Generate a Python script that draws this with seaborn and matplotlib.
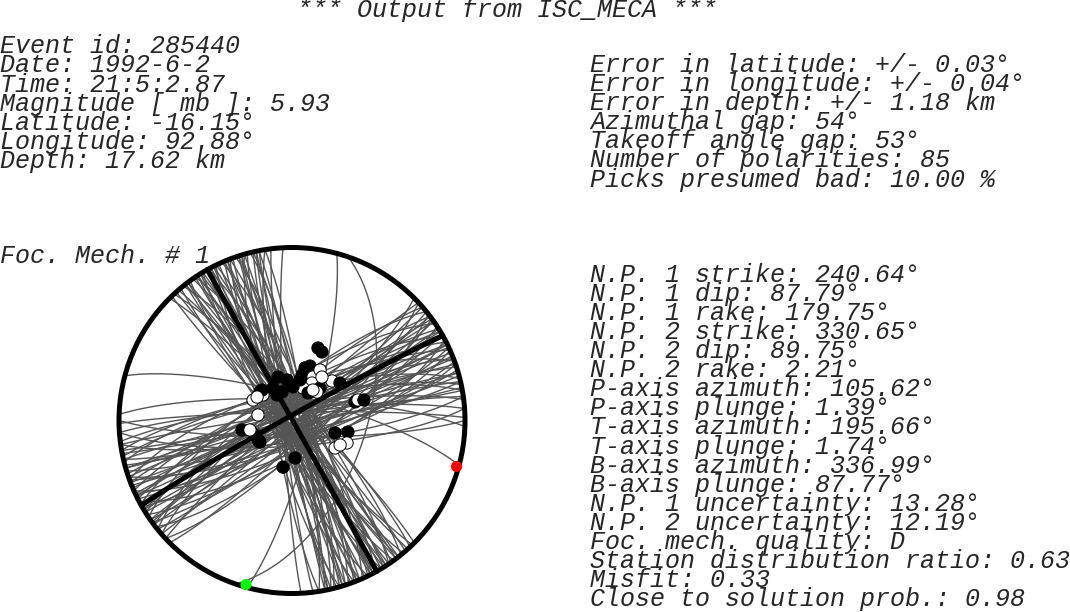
import numpy as np
import pandas as pd
import matplotlib
matplotlib.use("Agg")
import matplotlib.pyplot as plt
from matplotlib.patches import Circle
import seaborn as sns

# Header text
title = "*** Output from ISC_MECA ***"
event_info = [
    "Event id: 285440",
    "Date: 1992-6-2",
    "Time: 21:5:2.87",
    "Magnitude [ mb ]: 5.93",
    "Latitude: -16.15°",
    "Longitude: 92.88°",
    "Depth: 17.62 km",
]
error_info = [
    "Error in latitude: +/- 0.03°",
    "Error in longitude: +/- 0.04°",
    "Error in depth: +/- 1.18 km",
    "Azimuthal gap: 54°",
    "Takeoff angle gap: 53°",
    "Number of polarities: 85",
    "Picks presumed bad: 10.00 %",
]
mech_label = "Foc. Mech. # 1"
mech_info = [
    "N.P. 1 strike: 240.64°",
    "N.P. 1 dip: 87.79°",
    "N.P. 1 rake: 179.75°",
    "N.P. 2 strike: 330.65°",
    "N.P. 2 dip: 89.75°",
    "N.P. 2 rake: 2.21°",
    "P-axis azimuth: 105.62°",
    "P-axis plunge: 1.39°",
    "T-axis azimuth: 195.66°",
    "T-axis plunge: 1.74°",
    "B-axis azimuth: 336.99°",
    "B-axis plunge: 87.77°",
    "N.P. 1 uncertainty: 13.28°",
    "N.P. 2 uncertainty: 12.19°",
    "Foc. mech. quality: D",
    "Station distribution ratio: 0.63",
    "Misfit: 0.33",
    "Close to solution prob.: 0.98",
]

# Best nodal planes
np_strike = [240.64, 330.65]
np_dip = [87.79, 89.75]

# P and T axes (azimuth, plunge)
p_azimuth, p_plunge = 105.62, 1.39
t_azimuth, t_plunge = 195.66, 1.74

# Acceptable solutions (strike, dip)
np1_alt_strike = [45, 227, 47, 229, 49, 231, 51, 233, 52, 235, 54, 236, 55, 238,
                  57, 239, 58, 241, 60, 243, 62, 244, 63, 246, 65, 247, 66, 249,
                  68, 250, 70, 252, 71, 254, 73, 256, 75, 258, 77, 260, 79, 263,
                  82, 266, 86, 269, 90, 272,
                  53, 234, 59, 240, 64, 245, 69, 251, 74, 257, 80, 262]
np1_alt_dip = [82, 86, 78, 80, 88, 76, 84, 82, 76, 88, 80, 74, 86, 82,
               78, 84, 88, 76, 82, 80, 74, 86, 84, 78, 80, 88, 76, 82,
               86, 74, 80, 84, 78, 88, 82, 76, 86, 80, 84, 78, 88, 82,
               80, 84, 78, 86, 82, 80,
               89, 87, 89, 87, 89, 88, 89, 87, 89, 87, 89, 87]
np2_alt_strike = [315, 136, 317, 138, 319, 140, 321, 142, 323, 144, 325, 146,
                  326, 147, 328, 149, 329, 151, 331, 152, 333, 154, 334, 155,
                  336, 157, 337, 159, 339, 160, 341, 162, 342, 164, 344, 165,
                  346, 167, 347, 169, 349, 171, 351, 173,
                  322, 143, 327, 148, 332, 153, 338, 158, 343, 163, 348, 168]
np2_alt_dip = [84, 86, 82, 88, 86, 84, 80, 86, 88, 82, 84, 88,
               80, 86, 86, 82, 88, 84, 82, 86, 86, 80, 84, 88,
               80, 84, 88, 82, 84, 86, 82, 88, 86, 80, 88, 84,
               82, 86, 84, 88, 86, 82, 84, 86,
               89, 87, 89, 87, 89, 88, 89, 87, 89, 87, 89, 87]
odd_alt_strike = [285, 19, 15, 177]
odd_alt_dip = [78, 55, 80, 86]

# Polarities: station azimuth, takeoff angle, C = compression, D = dilatation
pol_azimuth = [19.7, 23.6, 13.9, 18.3, 12.4, 25.8, 29.0, 28.1, 45.4, 40.7,
               52.0, 18.7, 41.3, 30.2, 11.2, 342.2, 353.0, 329.7, 340.7, 311.7,
               297.7, 311.3, 279.2, 73.6, 72.7, 74.1, 259.2, 248.6, 240.2, 257.3,
               106.2, 101.6, 112.2, 122.6, 117.0, 175.4, 190.9, 1.7, 315.5, 329.5,
               303.9, 34.5, 34.6, 236.1]
pol_takeoff = [36.7, 35.6, 25.6, 27.1, 22.0, 22.8, 27.3, 20.0, 26.6, 20.2,
               28.8, 16.1, 17.8, 15.0, 19.5, 21.5, 19.2, 17.7, 14.2, 20.2,
               20.7, 18.2, 16.2, 31.2, 32.8, 35.6, 24.0, 18.7, 18.4, 20.3,
               21.1, 27.0, 28.1, 24.1, 25.5, 17.7, 22.4, 15.8, 20.1, 13.9,
               19.8, 17.4, 24.9, 18.2]
pol_sign = ["C", "C", "C", "C", "C", "D", "D", "D", "D", "C",
            "C", "D", "D", "C", "C", "C", "C", "C", "C", "C",
            "D", "D", "D", "C", "D", "C", "C", "C", "C", "D",
            "C", "C", "D", "D", "D", "C", "C", "C", "C", "C",
            "D", "D", "D", "C"]


def plane_curve(strike, dip, n=181):
    # lower hemisphere equal-area projection of a plane
    s, d = np.radians(strike), np.radians(dip)
    t = np.linspace(0, np.pi, n)
    dd = s + np.pi / 2
    north = np.cos(t) * np.cos(s) + np.sin(t) * np.cos(dd) * np.cos(d)
    east = np.cos(t) * np.sin(s) + np.sin(t) * np.sin(dd) * np.cos(d)
    down = np.clip(np.sin(t) * np.sin(d), -1, 1)
    trend = np.arctan2(east, north)
    r = np.sqrt(2) * np.sin((np.pi / 2 - np.arcsin(down)) / 2)
    return r * np.sin(trend), r * np.cos(trend)


def project(azimuth, takeoff):
    a = np.radians(np.asarray(azimuth, dtype=float))
    r = np.sqrt(2) * np.sin(np.radians(np.asarray(takeoff, dtype=float)) / 2)
    return r * np.sin(a), r * np.cos(a)


def planes_table(strikes, dips):
    rows = []
    for k, (s, d) in enumerate(zip(strikes, dips)):
        x, y = plane_curve(s, d)
        rows.append(pd.DataFrame({"x": x, "y": y, "plane": k}))
    return pd.concat(rows, ignore_index=True)


alt_df = planes_table(np1_alt_strike + np2_alt_strike + odd_alt_strike,
                      np1_alt_dip + np2_alt_dip + odd_alt_dip)
best_df = planes_table(np_strike, np_dip)

px, py = project(pol_azimuth, pol_takeoff)
pol_df = pd.DataFrame({"x": px, "y": py, "sign": pol_sign})

axes_df = pd.DataFrame({
    "axis": ["P", "T"],
    "azimuth": [p_azimuth, t_azimuth],
    "takeoff": [90 - p_plunge, 90 - t_plunge],
})
axes_df["x"], axes_df["y"] = project(axes_df["azimuth"], axes_df["takeoff"])

# Figure
W, H = 1070, 612
sns.set_style("white")
fig = plt.figure(figsize=(W / 100, H / 100), dpi=100)

R = 173.0
cx, cy = 292.0, 420.5
lim = 1.1
size = 2 * lim * R
ax = fig.add_axes([(cx - size / 2) / W, (H - cy - size / 2) / H, size / W, size / H])

sns.lineplot(data=alt_df, x="x", y="y", units="plane", estimator=None, sort=False,
             color="#555555", linewidth=1.0, ax=ax, zorder=2)
sns.lineplot(data=best_df, x="x", y="y", units="plane", estimator=None, sort=False,
             color="black", linewidth=3.6, ax=ax, zorder=3)
ax.add_patch(Circle((0, 0), 1.0, fill=False, edgecolor="black", linewidth=3.6, zorder=4))
sns.scatterplot(data=pol_df, x="x", y="y", hue="sign",
                palette={"C": "black", "D": "white"}, edgecolor="black",
                linewidth=0.7, s=78, legend=False, ax=ax, zorder=5)
sns.scatterplot(data=axes_df, x="x", y="y", hue="axis",
                palette={"P": "#ff0000", "T": "#00ff00"}, edgecolor="none",
                s=64, legend=False, ax=ax, zorder=6, clip_on=False)

ax.set_xlim(-lim, lim)
ax.set_ylim(-lim, lim)
ax.set_aspect("equal")
ax.axis("off")

# Text blocks
font = dict(family="Liberation Mono", style="italic", fontsize=18, va="baseline")
step = 19.1

fig.text(507 / W, 1 - 17 / H, title, ha="center", **font)
for k, line in enumerate(event_info):
    fig.text(0 / W, 1 - (53.3 + k * step) / H, line, ha="left", **font)
for k, line in enumerate(error_info):
    fig.text(590 / W, 1 - (72.0 + k * step) / H, line, ha="left", **font)
fig.text(0 / W, 1 - 263 / H, mech_label, ha="left", **font)
for k, line in enumerate(mech_info):
    fig.text(590 / W, 1 - (281.7 + k * step) / H, line, ha="left", **font)

fig.savefig("out.png", dpi=100)
